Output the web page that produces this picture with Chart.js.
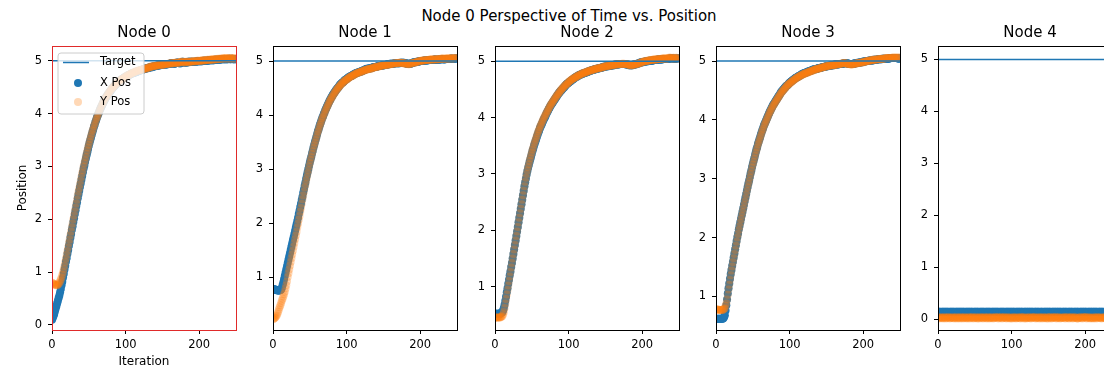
<!DOCTYPE html>
<html><head><meta charset="utf-8">
<script src="https://cdn.jsdelivr.net/npm/chart.js@4.4.1/dist/chart.umd.min.js"></script>
<style>
html,body{margin:0;padding:0;background:#fff;overflow:hidden;width:1104px;height:371px;}
#wrap{position:relative;width:1104px;height:371px;overflow:hidden;background:#fff;}
#sup{position:absolute;left:0;width:1138px;top:8px;text-align:center;font-family:"DejaVu Sans";font-size:15px;line-height:17px;color:#000;white-space:nowrap;}
.pn{position:absolute;top:0;width:288px;height:371px;}
</style></head><body>
<div id="wrap">
<div id="sup">Node 0 Perspective of Time vs. Position</div>
<div class="pn" style="left:0px"><canvas id="c0" width="288" height="371"></canvas></div>
<div class="pn" style="left:221px"><canvas id="c1" width="288" height="371"></canvas></div>
<div class="pn" style="left:443px"><canvas id="c2" width="288" height="371"></canvas></div>
<div class="pn" style="left:664px"><canvas id="c3" width="288" height="371"></canvas></div>
<div class="pn" style="left:886px"><canvas id="c4" width="288" height="371"></canvas></div>
</div>
<script>
const iterations = [0,1,2,3,4,5,6,7,8,9,10,11,12,13,14,15,16,17,18,19,20,21,22,23,24,25,26,27,28,29,30,31,32,33,34,35,36,37,38,39,40,41,42,43,44,45,46,47,48,49,
50,51,52,53,54,55,56,57,58,59,60,61,62,63,64,65,66,67,68,69,70,71,72,73,74,75,76,77,78,79,80,81,82,83,84,85,86,87,88,89,90,91,92,93,94,95,96,97,98,99,
100,101,102,103,104,105,106,107,108,109,110,111,112,113,114,115,116,117,118,119,120,121,122,123,124,125,126,127,128,129,130,131,132,133,134,135,136,137,138,139,140,141,142,143,144,145,146,147,148,149,
150,151,152,153,154,155,156,157,158,159,160,161,162,163,164,165,166,167,168,169,170,171,172,173,174,175,176,177,178,179,180,181,182,183,184,185,186,187,188,189,190,191,192,193,194,195,196,197,198,199,
200,201,202,203,204,205,206,207,208,209,210,211,212,213,214,215,216,217,218,219,220,221,222,223,224,225,226,227,228,229,230,231,232,233,234,235,236,237,238,239,240,241,242,243,244,245,246,247,248,249];
const targetIter = [0, 250];
const targetPos = [5, 5];
const nodeNames = ['Node 0','Node 1','Node 2','Node 3','Node 4'];
const seriesNames = ['Target','X Pos','Y Pos'];
const xTicks = [0, 100, 200];
const yTicks = [0, 1, 2, 3, 4, 5];
const yMin = [-0.095, 0.02, 0.23, 0.43, -0.21];
const yMax = [5.28, 5.28, 5.27, 5.255, 5.26];
const xMin = 0, xMax = 250;

const xPos0 = [0.10,0.13,0.17,0.21,0.26,0.31,0.36,0.41,0.46,0.51,
0.56,0.62,0.68,0.75,0.82,0.90,0.97,1.05,1.12,1.20,
1.27,1.35,1.42,1.50,1.57,1.65,1.72,1.80,1.87,1.95,
2.02,2.10,2.17,2.25,2.32,2.40,2.47,2.54,2.61,2.68,
2.75,2.82,2.89,2.96,3.02,3.09,3.15,3.21,3.27,3.33,
3.39,3.45,3.50,3.55,3.60,3.65,3.70,3.75,3.79,3.84,
3.88,3.92,3.96,4.00,4.03,4.07,4.10,4.13,4.16,4.19,
4.22,4.25,4.27,4.30,4.32,4.34,4.36,4.38,4.40,4.42,
4.44,4.46,4.48,4.50,4.51,4.53,4.54,4.56,4.57,4.58,
4.59,4.61,4.62,4.63,4.64,4.65,4.66,4.67,4.68,4.69,
4.70,4.70,4.71,4.72,4.73,4.73,4.74,4.75,4.76,4.76,
4.77,4.77,4.78,4.78,4.79,4.79,4.80,4.80,4.81,4.81,
4.82,4.82,4.83,4.83,4.84,4.84,4.85,4.85,4.86,4.86,
4.86,4.87,4.87,4.88,4.88,4.88,4.88,4.89,4.89,4.89,
4.90,4.90,4.90,4.91,4.91,4.91,4.91,4.92,4.92,4.92,
4.92,4.93,4.93,4.93,4.93,4.93,4.93,4.94,4.94,4.94,
4.94,4.95,4.96,4.96,4.95,4.95,4.94,4.95,4.96,4.96,
4.97,4.97,4.96,4.96,4.95,4.96,4.97,4.98,4.98,4.97,
4.97,4.97,4.97,4.97,4.97,4.98,4.98,4.98,4.98,4.98,
4.98,4.98,4.98,4.98,4.98,4.98,4.98,4.99,4.99,4.99,
4.99,4.99,4.99,4.99,4.99,5.00,5.00,5.00,5.00,5.00,
5.00,5.00,5.00,5.01,5.01,5.01,5.01,5.01,5.01,5.01,
5.01,5.02,5.02,5.02,5.02,5.02,5.02,5.02,5.02,5.03,
5.03,5.03,5.03,5.03,5.03,5.03,5.03,5.03,5.03,5.03,
5.04,5.04,5.03,5.03,5.04,5.04,5.03,5.03,5.03,5.03];
const yPos0 = [0.80,0.79,0.78,0.77,0.76,0.76,0.75,0.75,0.76,0.78,
0.80,0.83,0.86,0.90,0.95,1.00,1.06,1.12,1.19,1.26,
1.33,1.40,1.47,1.55,1.62,1.70,1.77,1.85,1.92,2.00,
2.07,2.15,2.22,2.30,2.37,2.45,2.52,2.59,2.66,2.73,
2.80,2.87,2.93,3.00,3.06,3.12,3.18,3.24,3.30,3.36,
3.41,3.47,3.52,3.57,3.62,3.67,3.71,3.76,3.80,3.84,
3.89,3.92,3.96,4.00,4.04,4.07,4.10,4.14,4.17,4.20,
4.22,4.25,4.28,4.30,4.32,4.35,4.37,4.39,4.41,4.43,
4.45,4.47,4.48,4.50,4.52,4.53,4.54,4.56,4.57,4.59,
4.60,4.61,4.62,4.63,4.65,4.65,4.66,4.67,4.68,4.69,
4.70,4.71,4.72,4.72,4.73,4.74,4.75,4.75,4.76,4.77,
4.77,4.78,4.79,4.79,4.80,4.80,4.81,4.81,4.82,4.82,
4.82,4.83,4.83,4.84,4.84,4.85,4.85,4.86,4.85,4.86,
4.87,4.87,4.88,4.88,4.89,4.89,4.89,4.89,4.90,4.90,
4.90,4.91,4.91,4.91,4.91,4.92,4.92,4.92,4.93,4.93,
4.92,4.92,4.93,4.93,4.94,4.94,4.94,4.94,4.94,4.95,
4.95,4.95,4.96,4.96,4.95,4.95,4.96,4.96,4.97,4.97,
4.96,4.96,4.97,4.97,4.97,4.98,4.98,4.98,4.97,4.98,
4.97,4.97,4.98,4.98,4.98,4.98,4.97,4.98,4.98,4.99,
4.98,4.99,4.99,4.99,4.98,4.99,4.99,5.00,5.00,5.00,
4.99,5.00,5.00,5.00,5.01,5.01,5.00,5.01,5.01,5.01,
5.01,5.02,5.02,5.01,5.02,5.02,5.02,5.03,5.02,5.03,
5.02,5.03,5.03,5.03,5.03,5.04,5.03,5.04,5.04,5.04,
5.04,5.04,5.05,5.05,5.04,5.05,5.05,5.05,5.04,5.05,
5.05,5.05,5.04,5.05,5.05,5.05,5.04,5.05,5.05,5.04];
const xPos1 = [0.78,0.78,0.77,0.77,0.76,0.76,0.75,0.75,0.75,0.75,
0.76,0.77,0.80,0.85,0.90,0.96,1.02,1.08,1.14,1.20,
1.26,1.32,1.38,1.44,1.50,1.56,1.62,1.68,1.74,1.80,
1.86,1.92,1.98,2.04,2.10,2.17,2.23,2.30,2.36,2.43,
2.49,2.56,2.62,2.69,2.75,2.82,2.88,2.94,3.00,3.06,
3.12,3.18,3.23,3.29,3.34,3.40,3.45,3.50,3.55,3.60,
3.65,3.70,3.74,3.79,3.83,3.87,3.91,3.95,3.98,4.02,
4.05,4.09,4.12,4.15,4.18,4.21,4.24,4.27,4.29,4.32,
4.34,4.37,4.39,4.41,4.43,4.45,4.47,4.49,4.50,4.52,
4.54,4.56,4.57,4.59,4.60,4.61,4.62,4.64,4.65,4.66,
4.67,4.68,4.69,4.70,4.71,4.72,4.72,4.73,4.74,4.75,
4.75,4.76,4.77,4.78,4.78,4.79,4.79,4.80,4.80,4.81,
4.81,4.82,4.82,4.83,4.83,4.84,4.85,4.86,4.86,4.86,
4.86,4.87,4.87,4.87,4.87,4.88,4.88,4.89,4.89,4.89,
4.89,4.90,4.90,4.91,4.91,4.91,4.91,4.92,4.92,4.92,
4.92,4.93,4.93,4.93,4.93,4.94,4.94,4.94,4.94,4.95,
4.95,4.95,4.95,4.95,4.95,4.96,4.96,4.96,4.96,4.96,
4.96,4.96,4.96,4.97,4.97,4.97,4.97,4.97,4.97,4.96,
4.96,4.96,4.95,4.95,4.95,4.95,4.95,4.95,4.96,4.96,
4.97,4.98,4.98,4.98,4.98,4.99,4.99,4.99,4.99,5.00,
5.00,5.00,5.00,5.00,5.00,5.01,5.01,5.01,5.01,5.01,
5.01,5.02,5.02,5.02,5.02,5.02,5.02,5.02,5.02,5.03,
5.03,5.03,5.02,5.02,5.03,5.03,5.03,5.03,5.03,5.04,
5.04,5.04,5.03,5.03,5.04,5.04,5.04,5.04,5.04,5.04,
5.04,5.04,5.05,5.05,5.04,5.04,5.04,5.05,5.05,5.05];
const yPos1 = [0.22,0.23,0.24,0.25,0.27,0.29,0.32,0.36,0.40,0.44,
0.48,0.52,0.56,0.60,0.64,0.68,0.73,0.79,0.85,0.92,
1.00,1.07,1.14,1.21,1.28,1.35,1.42,1.49,1.56,1.63,
1.70,1.77,1.84,1.92,1.99,2.06,2.13,2.21,2.28,2.36,
2.44,2.51,2.58,2.66,2.72,2.79,2.85,2.92,2.98,3.05,
3.11,3.17,3.22,3.28,3.33,3.39,3.44,3.49,3.54,3.59,
3.64,3.69,3.73,3.78,3.82,3.86,3.90,3.94,3.97,4.01,
4.04,4.08,4.11,4.14,4.17,4.20,4.23,4.26,4.28,4.31,
4.33,4.35,4.38,4.40,4.42,4.44,4.46,4.48,4.50,4.51,
4.53,4.55,4.56,4.58,4.59,4.60,4.62,4.63,4.64,4.65,
4.66,4.67,4.68,4.69,4.70,4.71,4.72,4.72,4.73,4.74,
4.75,4.75,4.76,4.77,4.78,4.78,4.79,4.79,4.80,4.80,
4.81,4.81,4.82,4.82,4.83,4.83,4.84,4.84,4.85,4.85,
4.85,4.86,4.86,4.86,4.87,4.87,4.88,4.88,4.88,4.89,
4.89,4.89,4.90,4.90,4.90,4.91,4.91,4.91,4.92,4.92,
4.92,4.93,4.93,4.93,4.93,4.93,4.93,4.94,4.94,4.94,
4.94,4.95,4.95,4.95,4.95,4.96,4.96,4.96,4.96,4.96,
4.96,4.97,4.97,4.97,4.97,4.97,4.96,4.96,4.96,4.96,
4.95,4.95,4.95,4.95,4.94,4.94,4.95,4.95,4.96,4.96,
4.97,4.97,4.97,4.98,4.98,4.98,4.99,4.99,5.00,5.00,
5.00,5.00,5.01,5.01,5.01,5.01,5.01,5.02,5.02,5.02,
5.02,5.02,5.02,5.03,5.03,5.03,5.03,5.03,5.03,5.03,
5.03,5.04,5.04,5.03,5.03,5.04,5.04,5.04,5.04,5.05,
5.05,5.05,5.04,5.04,5.05,5.05,5.05,5.05,5.05,5.05,
5.05,5.05,5.06,5.06,5.05,5.05,5.05,5.06,5.06,5.06];
const xPos2 = [0.52,0.52,0.52,0.52,0.52,0.52,0.52,0.52,0.53,0.54,
0.55,0.58,0.62,0.68,0.75,0.82,0.90,0.97,1.05,1.12,
1.20,1.27,1.35,1.42,1.50,1.58,1.66,1.74,1.82,1.90,
1.98,2.06,2.14,2.22,2.30,2.38,2.46,2.54,2.62,2.70,
2.78,2.85,2.92,2.99,3.05,3.11,3.16,3.21,3.26,3.31,
3.36,3.41,3.45,3.50,3.54,3.58,3.62,3.66,3.70,3.74,
3.77,3.81,3.84,3.87,3.90,3.93,3.96,3.99,4.01,4.04,
4.07,4.10,4.12,4.15,4.17,4.20,4.22,4.24,4.26,4.28,
4.30,4.32,4.34,4.36,4.38,4.40,4.42,4.44,4.45,4.47,
4.48,4.50,4.51,4.53,4.54,4.56,4.57,4.59,4.60,4.61,
4.62,4.63,4.64,4.65,4.66,4.67,4.68,4.69,4.70,4.71,
4.72,4.73,4.73,4.74,4.75,4.76,4.76,4.77,4.77,4.78,
4.78,4.79,4.79,4.80,4.80,4.81,4.81,4.82,4.82,4.83,
4.83,4.84,4.84,4.85,4.85,4.85,4.86,4.86,4.86,4.87,
4.87,4.87,4.88,4.88,4.88,4.89,4.89,4.90,4.90,4.90,
4.90,4.91,4.91,4.91,4.91,4.92,4.92,4.92,4.92,4.93,
4.93,4.93,4.93,4.94,4.94,4.94,4.94,4.94,4.94,4.95,
4.95,4.95,4.95,4.95,4.95,4.95,4.95,4.95,4.94,4.94,
4.94,4.94,4.93,4.93,4.93,4.93,4.93,4.93,4.94,4.94,
4.94,4.94,4.95,4.95,4.96,4.96,4.97,4.97,4.98,4.98,
4.98,4.98,4.99,4.99,4.99,5.00,5.00,5.00,5.00,5.01,
5.01,5.01,5.01,5.01,5.01,5.02,5.02,5.02,5.02,5.02,
5.02,5.03,5.03,5.03,5.03,5.03,5.03,5.03,5.04,5.04,
5.04,5.04,5.04,5.04,5.04,5.04,5.04,5.05,5.05,5.05,
5.05,5.05,5.05,5.05,5.04,5.04,5.05,5.05,5.05,5.05];
const yPos2 = [0.45,0.45,0.45,0.45,0.45,0.45,0.45,0.45,0.46,0.47,
0.48,0.51,0.55,0.62,0.70,0.78,0.86,0.94,1.02,1.10,
1.18,1.26,1.34,1.42,1.50,1.58,1.66,1.74,1.82,1.90,
1.98,2.06,2.14,2.22,2.30,2.38,2.46,2.54,2.62,2.70,
2.78,2.86,2.93,3.00,3.06,3.12,3.17,3.23,3.28,3.33,
3.38,3.43,3.47,3.52,3.56,3.60,3.64,3.68,3.72,3.76,
3.79,3.83,3.86,3.89,3.92,3.95,3.98,4.01,4.03,4.06,
4.08,4.11,4.13,4.16,4.18,4.21,4.23,4.25,4.27,4.29,
4.31,4.33,4.35,4.37,4.39,4.41,4.42,4.44,4.46,4.48,
4.49,4.51,4.52,4.54,4.55,4.57,4.58,4.59,4.60,4.61,
4.63,4.64,4.65,4.66,4.67,4.68,4.69,4.70,4.70,4.71,
4.72,4.73,4.74,4.74,4.75,4.76,4.76,4.77,4.78,4.78,
4.79,4.79,4.80,4.80,4.81,4.81,4.82,4.82,4.83,4.83,
4.84,4.84,4.84,4.85,4.85,4.86,4.86,4.86,4.87,4.87,
4.87,4.88,4.88,4.88,4.89,4.89,4.89,4.90,4.90,4.90,
4.91,4.91,4.91,4.92,4.92,4.92,4.92,4.92,4.93,4.93,
4.93,4.93,4.94,4.94,4.94,4.94,4.94,4.94,4.95,4.95,
4.95,4.95,4.95,4.95,4.96,4.95,4.95,4.95,4.95,4.94,
4.94,4.94,4.94,4.93,4.93,4.93,4.93,4.93,4.94,4.94,
4.94,4.94,4.95,4.95,4.96,4.96,4.96,4.97,4.97,4.98,
4.99,4.99,4.99,5.00,5.00,5.00,5.01,5.01,5.01,5.01,
5.02,5.02,5.02,5.02,5.02,5.03,5.03,5.03,5.03,5.03,
5.03,5.04,5.04,5.04,5.04,5.04,5.04,5.05,5.05,5.05,
5.05,5.05,5.05,5.05,5.05,5.05,5.06,5.06,5.06,5.06,
5.05,5.05,5.06,5.06,5.05,5.05,5.06,5.06,5.05,5.05];
const xPos3 = [0.62,0.62,0.62,0.62,0.62,0.62,0.62,0.62,0.62,0.62,
0.63,0.65,0.68,0.76,0.85,0.95,1.05,1.14,1.22,1.30,
1.38,1.45,1.52,1.59,1.66,1.73,1.80,1.87,1.94,2.01,
2.07,2.14,2.20,2.26,2.32,2.38,2.44,2.50,2.56,2.62,
2.68,2.74,2.80,2.86,2.92,2.97,3.03,3.09,3.14,3.20,
3.25,3.30,3.35,3.40,3.45,3.50,3.54,3.59,3.63,3.67,
3.71,3.75,3.79,3.83,3.86,3.90,3.93,3.96,3.99,4.02,
4.05,4.08,4.11,4.14,4.16,4.19,4.21,4.24,4.26,4.28,
4.30,4.32,4.34,4.36,4.38,4.40,4.42,4.44,4.46,4.48,
4.49,4.51,4.52,4.54,4.55,4.57,4.58,4.59,4.60,4.62,
4.63,4.64,4.65,4.66,4.67,4.68,4.69,4.70,4.71,4.72,
4.72,4.73,4.74,4.75,4.75,4.76,4.77,4.78,4.78,4.79,
4.79,4.80,4.80,4.81,4.81,4.82,4.82,4.83,4.83,4.84,
4.84,4.85,4.85,4.86,4.86,4.86,4.86,4.87,4.87,4.88,
4.88,4.88,4.88,4.89,4.89,4.90,4.90,4.90,4.90,4.91,
4.91,4.91,4.91,4.92,4.92,4.92,4.92,4.93,4.93,4.93,
4.93,4.94,4.94,4.94,4.94,4.94,4.94,4.95,4.95,4.95,
4.95,4.95,4.95,4.96,4.96,4.96,4.96,4.96,4.96,4.96,
4.95,4.95,4.95,4.95,4.95,4.95,4.95,4.95,4.96,4.96,
4.96,4.96,4.97,4.97,4.97,4.97,4.98,4.98,4.98,4.98,
4.99,4.99,4.99,4.99,5.00,5.00,5.00,5.00,5.01,5.01,
5.01,5.01,5.01,5.01,5.02,5.02,5.02,5.02,5.02,5.02,
5.03,5.03,5.03,5.03,5.03,5.03,5.04,5.04,5.04,5.04,
5.04,5.04,5.04,5.04,5.04,5.04,5.05,5.05,5.05,5.05,
5.05,5.05,5.05,5.05,5.05,5.05,5.05,5.05,5.04,5.04];
const yPos3 = [0.78,0.78,0.78,0.78,0.77,0.77,0.77,0.77,0.77,0.77,
0.78,0.79,0.80,0.84,0.88,0.95,1.03,1.12,1.20,1.28,
1.36,1.44,1.51,1.58,1.65,1.72,1.79,1.86,1.93,2.00,
2.06,2.13,2.19,2.25,2.31,2.37,2.43,2.49,2.55,2.61,
2.67,2.73,2.79,2.85,2.91,2.96,3.02,3.08,3.13,3.19,
3.24,3.29,3.34,3.39,3.44,3.49,3.53,3.58,3.62,3.66,
3.70,3.74,3.78,3.82,3.85,3.89,3.92,3.95,3.98,4.01,
4.04,4.07,4.10,4.13,4.15,4.18,4.20,4.23,4.25,4.27,
4.29,4.31,4.33,4.35,4.37,4.39,4.41,4.43,4.45,4.47,
4.48,4.50,4.51,4.53,4.54,4.56,4.57,4.59,4.60,4.61,
4.62,4.63,4.64,4.65,4.66,4.67,4.68,4.69,4.70,4.71,
4.72,4.72,4.73,4.74,4.75,4.75,4.76,4.77,4.77,4.78,
4.78,4.79,4.79,4.80,4.80,4.81,4.81,4.82,4.82,4.83,
4.83,4.84,4.84,4.85,4.85,4.86,4.86,4.87,4.87,4.87,
4.87,4.88,4.88,4.89,4.89,4.89,4.90,4.90,4.90,4.91,
4.91,4.91,4.92,4.92,4.92,4.92,4.93,4.93,4.93,4.93,
4.93,4.93,4.94,4.94,4.94,4.94,4.95,4.95,4.95,4.95,
4.95,4.96,4.96,4.96,4.96,4.96,4.96,4.96,4.95,4.95,
4.95,4.95,4.95,4.94,4.94,4.94,4.95,4.95,4.95,4.95,
4.96,4.96,4.96,4.96,4.97,4.97,4.97,4.97,4.98,4.98,
4.98,4.98,4.99,4.99,4.99,5.00,5.00,5.00,5.01,5.01,
5.01,5.01,5.02,5.02,5.02,5.02,5.02,5.02,5.03,5.03,
5.03,5.03,5.03,5.03,5.04,5.04,5.04,5.04,5.04,5.04,
5.05,5.05,5.05,5.05,5.05,5.05,5.05,5.05,5.05,5.05,
5.06,5.06,5.05,5.05,5.06,5.06,5.05,5.05,5.06,5.06];
const xPos4 = [0.13,0.14,0.14,0.13,0.14,0.13,0.14,0.14,0.13,0.14,
0.14,0.13,0.14,0.14,0.13,0.14,0.13,0.14,0.14,0.13,
0.14,0.14,0.13,0.14,0.13,0.14,0.14,0.13,0.14,0.14,
0.13,0.14,0.14,0.13,0.14,0.14,0.13,0.14,0.13,0.14,
0.14,0.13,0.14,0.14,0.13,0.14,0.14,0.13,0.14,0.13,
0.14,0.14,0.13,0.14,0.14,0.13,0.14,0.13,0.14,0.14,
0.13,0.14,0.14,0.13,0.14,0.13,0.14,0.14,0.13,0.14,
0.14,0.13,0.14,0.13,0.14,0.14,0.13,0.14,0.14,0.13,
0.14,0.14,0.13,0.14,0.13,0.14,0.14,0.13,0.14,0.14,
0.13,0.14,0.13,0.14,0.14,0.13,0.14,0.14,0.13,0.14,
0.14,0.13,0.14,0.14,0.13,0.14,0.13,0.14,0.14,0.13,
0.14,0.14,0.13,0.14,0.14,0.13,0.14,0.13,0.14,0.14,
0.13,0.14,0.14,0.13,0.14,0.14,0.13,0.14,0.14,0.13,
0.14,0.13,0.14,0.14,0.13,0.14,0.14,0.13,0.14,0.13,
0.14,0.14,0.13,0.14,0.13,0.14,0.14,0.13,0.14,0.14,
0.13,0.14,0.14,0.13,0.14,0.13,0.14,0.14,0.13,0.14,
0.14,0.13,0.14,0.14,0.13,0.14,0.14,0.13,0.14,0.13,
0.14,0.14,0.13,0.14,0.14,0.13,0.14,0.13,0.14,0.14,
0.13,0.14,0.14,0.13,0.14,0.13,0.14,0.14,0.13,0.14,
0.14,0.13,0.14,0.13,0.14,0.14,0.13,0.14,0.14,0.13,
0.14,0.14,0.13,0.14,0.13,0.14,0.14,0.13,0.14,0.14,
0.13,0.14,0.14,0.13,0.14,0.14,0.13,0.14,0.13,0.14,
0.14,0.13,0.14,0.14,0.13,0.14,0.13,0.14,0.14,0.13,
0.14,0.14,0.13,0.14,0.14,0.13,0.14,0.13,0.14,0.14,
0.13,0.14,0.14,0.13,0.14,0.14,0.13,0.14,0.13,0.14];
const yPos4 = [0.02,0.03,0.01,0.04,0.02,0.03,0.02,0.01,0.03,0.04,
0.02,0.01,0.03,0.02,0.04,0.03,0.01,0.02,0.03,0.02,
0.04,0.02,0.01,0.03,0.02,0.04,0.01,0.03,0.02,0.03,
0.01,0.04,0.02,0.03,0.01,0.02,0.04,0.03,0.02,0.01,
0.03,0.02,0.04,0.01,0.03,0.02,0.03,0.04,0.01,0.02,
0.02,0.04,0.03,0.01,0.02,0.03,0.01,0.04,0.02,0.03,
0.03,0.01,0.02,0.04,0.03,0.02,0.01,0.03,0.04,0.02,
0.01,0.03,0.02,0.04,0.02,0.01,0.03,0.02,0.04,0.03,
0.02,0.04,0.01,0.03,0.02,0.03,0.04,0.01,0.02,0.03,
0.04,0.02,0.03,0.01,0.02,0.04,0.03,0.02,0.01,0.03,
0.02,0.01,0.04,0.03,0.02,0.03,0.01,0.02,0.04,0.02,
0.03,0.02,0.01,0.04,0.03,0.02,0.04,0.01,0.03,0.02,
0.01,0.03,0.02,0.04,0.02,0.03,0.01,0.02,0.04,0.03,
0.02,0.04,0.03,0.01,0.02,0.03,0.02,0.04,0.01,0.03,
0.03,0.02,0.01,0.04,0.03,0.02,0.03,0.01,0.02,0.04,
0.01,0.03,0.04,0.02,0.01,0.03,0.02,0.04,0.03,0.02,
0.04,0.01,0.02,0.03,0.04,0.02,0.01,0.03,0.02,0.03,
0.02,0.03,0.04,0.01,0.02,0.04,0.03,0.02,0.01,0.03,
0.03,0.04,0.02,0.01,0.03,0.02,0.04,0.03,0.02,0.01,
0.01,0.02,0.03,0.04,0.02,0.03,0.01,0.02,0.04,0.03,
0.04,0.03,0.01,0.02,0.03,0.04,0.02,0.01,0.03,0.02,
0.02,0.01,0.04,0.03,0.02,0.01,0.03,0.04,0.02,0.03,
0.03,0.02,0.01,0.02,0.04,0.03,0.02,0.03,0.01,0.04,
0.02,0.04,0.03,0.02,0.01,0.03,0.04,0.02,0.03,0.01,
0.04,0.02,0.01,0.03,0.02,0.04,0.03,0.01,0.02,0.03];

const xSeries = [xPos0, xPos1, xPos2, xPos3, xPos4];
const ySeries = [yPos0, yPos1, yPos2, yPos3, yPos4];

const BLUE = '#1f77b4';
const ORANGE_A = 'rgba(255,127,14,0.3)';
const FONT = 'DejaVu Sans';

const spinePlugin = {
  id: 'spines',
  afterDraw(chart, args, opts) {
    const a = chart.chartArea, ctx = chart.ctx;
    ctx.save();
    ctx.strokeStyle = opts.color || '#000';
    ctx.lineWidth = 1;
    ctx.strokeRect(a.left + 0.5, a.top + 0.5, a.right - a.left, a.bottom - a.top);
    ctx.restore();
  }
};

const legendPlugin = {
  id: 'mplLegend',
  afterDatasetsDraw(chart, args, opts) {
    if (!opts.show) return;
    const ctx = chart.ctx, a = chart.chartArea;
    const x0 = a.left + 6, y0 = a.top + 7, w = 86, h = 61, r = 3;
    ctx.save();
    ctx.beginPath();
    ctx.moveTo(x0 + r, y0);
    ctx.lineTo(x0 + w - r, y0); ctx.arcTo(x0 + w, y0, x0 + w, y0 + r, r);
    ctx.lineTo(x0 + w, y0 + h - r); ctx.arcTo(x0 + w, y0 + h, x0 + w - r, y0 + h, r);
    ctx.lineTo(x0 + r, y0 + h); ctx.arcTo(x0, y0 + h, x0, y0 + h - r, r);
    ctx.lineTo(x0, y0 + r); ctx.arcTo(x0, y0, x0 + r, y0, r);
    ctx.closePath();
    ctx.fillStyle = 'rgba(255,255,255,0.8)';
    ctx.fill();
    ctx.strokeStyle = '#cccccc';
    ctx.lineWidth = 1;
    ctx.stroke();
    const ds = chart.data.datasets;
    const byLabel = l => ds.find(d => d.label === l);
    const tgt = byLabel(seriesNames[0]), xs = byLabel(seriesNames[1]), ys = byLabel(seriesNames[2]);
    ctx.strokeStyle = tgt.borderColor;
    ctx.lineWidth = tgt.borderWidth;
    ctx.beginPath(); ctx.moveTo(x0 + 5, y0 + 9.5); ctx.lineTo(x0 + 31, y0 + 9.5); ctx.stroke();
    ctx.fillStyle = xs.pointBackgroundColor;
    ctx.beginPath(); ctx.arc(x0 + 20, y0 + 30, 4, 0, Math.PI * 2); ctx.fill();
    ctx.fillStyle = ys.pointBackgroundColor;
    ctx.beginPath(); ctx.arc(x0 + 20, y0 + 49, 4, 0, Math.PI * 2); ctx.fill();
    ctx.fillStyle = '#000';
    ctx.font = '11.5px "' + FONT + '"';
    ctx.textBaseline = 'middle';
    ctx.textAlign = 'left';
    ctx.fillText(seriesNames[0], x0 + 42, y0 + 9.5);
    ctx.fillText(seriesNames[1], x0 + 42, y0 + 30);
    ctx.fillText(seriesNames[2], x0 + 42, y0 + 49);
    ctx.restore();
  }
};

function makePanel(k) {
  const pts = (arr) => iterations.map((it, i) => ({x: it, y: arr[i]}));
  const first = k === 0;
  const tickFont = {family: FONT, size: 11.5};
  new Chart(document.getElementById('c' + k), {
    type: 'scatter',
    data: {
      datasets: [
        {label: seriesNames[0], type: 'line', data: targetIter.map((x, i) => ({x: x, y: targetPos[i]})),
         borderColor: BLUE, borderWidth: 1.5, pointRadius: 0, pointHoverRadius: 0, fill: false, tension: 0, order: 0, clip: 0},
        {label: seriesNames[2], data: pts(ySeries[k]), pointBackgroundColor: ORANGE_A, backgroundColor: ORANGE_A,
         pointBorderWidth: 0, borderWidth: 0, pointRadius: 4, pointHoverRadius: 4, order: 1, clip: 0},
        {label: seriesNames[1], data: pts(xSeries[k]), pointBackgroundColor: BLUE, backgroundColor: BLUE,
         pointBorderWidth: 0, borderWidth: 0, pointRadius: 4, pointHoverRadius: 4, order: 2, clip: 0}
      ]
    },
    options: {
      responsive: false,
      animation: false,
      devicePixelRatio: 1,
      events: [],
      layout: {padding: 0},
      plugins: {
        legend: {display: false},
        tooltip: {enabled: false},
        title: {display: true, text: nodeNames[k], color: '#000',
                font: {family: FONT, size: 15, weight: 'normal', lineHeight: 1.2},
                padding: {top: 24.5, bottom: 3.5}},
        spines: {color: first ? '#e02a2a' : '#000'},
        mplLegend: {show: first}
      },
      scales: {
        x: {
          type: 'linear', min: xMin, max: xMax,
          afterBuildTicks: s => { s.ticks = xTicks.map(v => ({value: v})); },
          afterFit: s => { s.height = 41; },
          grid: {display: true, drawOnChartArea: false, drawTicks: true, tickLength: 4, color: '#000', tickColor: '#000', tickWidth: 1},
          border: {display: false},
          ticks: {color: '#000', font: tickFont, padding: 4, maxRotation: 0, autoSkip: false},
          title: {display: first, text: 'Iteration', color: '#000', font: {family: FONT, size: 12}, padding: {top: 0, bottom: 2}}
        },
        y: {
          type: 'linear', position: 'left', min: yMin[k], max: yMax[k],
          afterBuildTicks: s => { s.ticks = yTicks.filter(v => v >= yMin[k] && v <= yMax[k]).map(v => ({value: v})); },
          afterFit: s => { s.width = 52; },
          grid: {display: true, drawOnChartArea: false, drawTicks: true, tickLength: 4, color: '#000', tickColor: '#000', tickWidth: 1},
          border: {display: false},
          ticks: {color: '#000', font: tickFont, padding: 6, autoSkip: false},
          title: {display: first, text: 'Position', color: '#000', font: {family: FONT, size: 12}, padding: {top: 16, bottom: 0}}
        },
        pad: {
          type: 'linear', position: 'right', display: true, min: 0, max: 1,
          afterBuildTicks: s => { s.ticks = []; },
          afterFit: s => { s.width = 52; },
          grid: {display: false}, border: {display: false}, ticks: {display: false}
        }
      }
    },
    plugins: [spinePlugin, legendPlugin]
  });
}
for (let k = 0; k < nodeNames.length; k++) makePanel(k);
</script>
</body></html>
